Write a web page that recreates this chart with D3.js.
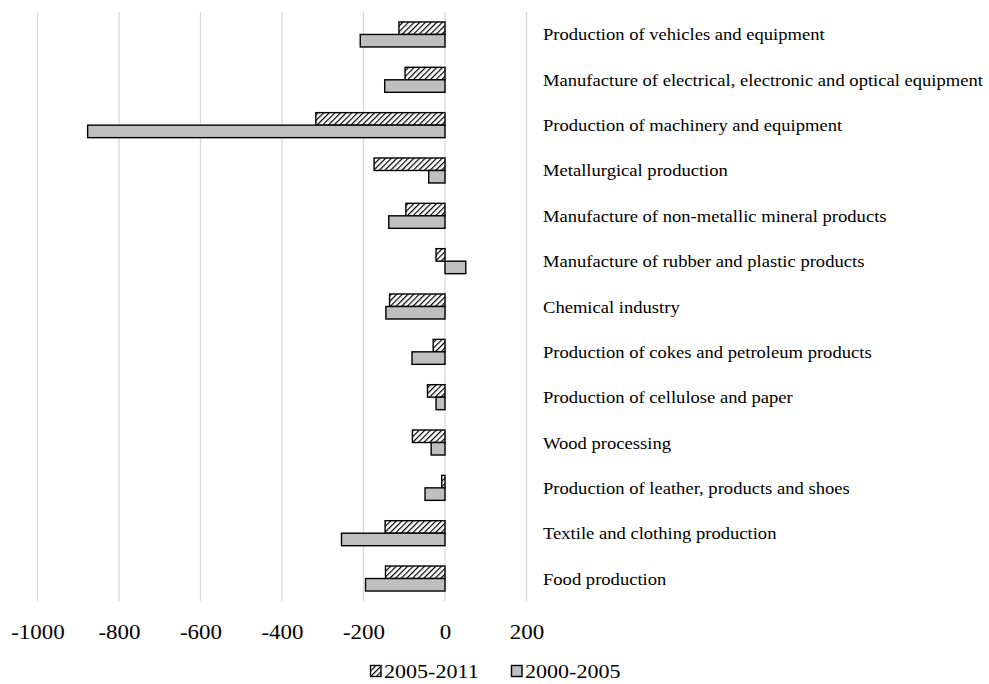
<!DOCTYPE html>
<html>
<head>
<meta charset="utf-8">
<script src="https://cdn.jsdelivr.net/npm/d3@7"></script>
<style>
  html, body { margin: 0; padding: 0; background: #fff; }
  svg { display: block; }
  text { font-family: "Liberation Serif", "Times New Roman", serif; fill: #000; }
</style>
</head>
<body>
<svg id="chart" width="989" height="684"></svg>
<script>
// Industries, top to bottom
const categories = [
  "Production of vehicles and equipment",
  "Manufacture of electrical, electronic and optical equipment",
  "Production of machinery and equipment",
  "Metallurgical production",
  "Manufacture of non-metallic mineral products",
  "Manufacture of rubber and plastic products",
  "Chemical industry",
  "Production of cokes and petroleum products",
  "Production of cellulose and paper",
  "Wood processing",
  "Production of leather, products and shoes",
  "Textile and clothing production",
  "Food production"
];
const seriesNames = ["2005-2011", "2000-2005"];
const values2005_2011 = [-113, -98, -317, -174, -96, -22, -136, -29, -43, -80, -8, -147, -146];
const values2000_2005 = [-208, -148, -877, -40, -138, 51, -145, -81, -22, -34, -49, -254, -195];
const xTicks = [-1000, -800, -600, -400, -200, 0, 200];
const xTickLabels = ["-1000", "-800", "-600", "-400", "-200", "0", "200"];

const svg = d3.select("#chart");
const stretch = 1.12; // horizontal text stretch

// hatch pattern for the 2005-2011 series
const defs = svg.append("defs");
const pat = defs.append("pattern")
  .attr("id", "hatch")
  .attr("patternUnits", "userSpaceOnUse")
  .attr("width", 4).attr("height", 4)
  .attr("patternTransform", "rotate(45)");
pat.append("rect").attr("width", 4).attr("height", 4).attr("fill", "#fff");
pat.append("line").attr("x1", 0).attr("y1", 0).attr("x2", 0).attr("y2", 4)
  .attr("stroke", "#000").attr("stroke-width", 2.4);

const fills = { "2005-2011": "url(#hatch)", "2000-2005": "#bfbfbf" };

const x = d3.scaleLinear().domain([-1000, 200]).range([37.5, 526.5]);
const y = d3.scaleBand().domain(categories).range([12.3, 601.7]);
const barH = 12.5;
const groupH = barH * 2;
const yInner = d3.scaleBand().domain(seriesNames)
  .range([(y.bandwidth() - groupH) / 2 - 0.5, (y.bandwidth() + groupH) / 2 - 0.5]);

// vertical gridlines
svg.append("g").selectAll("line").data(xTicks).join("line")
  .attr("x1", d => x(d)).attr("x2", d => x(d))
  .attr("y1", 12).attr("y2", 601)
  .attr("stroke", "#d9d9d9").attr("stroke-width", 1.3);

// bars
const seriesData = [
  { name: "2005-2011", values: values2005_2011 },
  { name: "2000-2005", values: values2000_2005 }
];
seriesData.forEach(s => {
  svg.append("g").selectAll("rect")
    .data(s.values.map((v, i) => ({ cat: categories[i], v })))
    .join("rect")
    .attr("x", d => x(Math.min(0, d.v)))
    .attr("width", d => Math.abs(x(d.v) - x(0)))
    .attr("y", d => y(d.cat) + yInner(s.name))
    .attr("height", yInner.bandwidth())
    .attr("fill", fills[s.name])
    .attr("stroke", "#000").attr("stroke-width", 1.4);
});

// category labels on the right
svg.append("g").selectAll("text").data(categories).join("text")
  .attr("transform", d => `translate(543,${y(d) + y.bandwidth() / 2 + 5.5}) scale(${stretch},1)`)
  .attr("font-size", 16.6)
  .text(d => d);

// x axis labels
const axis = d3.axisBottom(x).tickValues(xTicks)
  .tickFormat((d, i) => xTickLabels[i])
  .tickSize(0).tickPadding(0);
const ax = svg.append("g").attr("transform", "translate(0,639)").call(axis);
ax.attr("font-family", null).attr("font-size", null);
ax.select(".domain").remove();
ax.selectAll("text")
  .attr("y", 0).attr("dy", 0).attr("x", 0)
  .attr("font-size", 20.5)
  .attr("fill", "#000")
  .attr("transform", `scale(${stretch},1)`);

// legend
const legend = svg.append("g").attr("transform", "translate(370,665)");
const legendX = [0, 141];
seriesNames.forEach((name, i) => {
  const g = legend.append("g").attr("transform", `translate(${legendX[i]},0)`);
  g.append("rect").attr("x", 0.5).attr("y", 0.5).attr("width", 10.5).attr("height", 11)
    .attr("fill", fills[name]).attr("stroke", "#000").attr("stroke-width", 1.4);
  g.append("text")
    .attr("transform", `translate(14,13) scale(${stretch},1)`)
    .attr("font-size", 19.7)
    .text(name);
});
</script>
</body>
</html>
